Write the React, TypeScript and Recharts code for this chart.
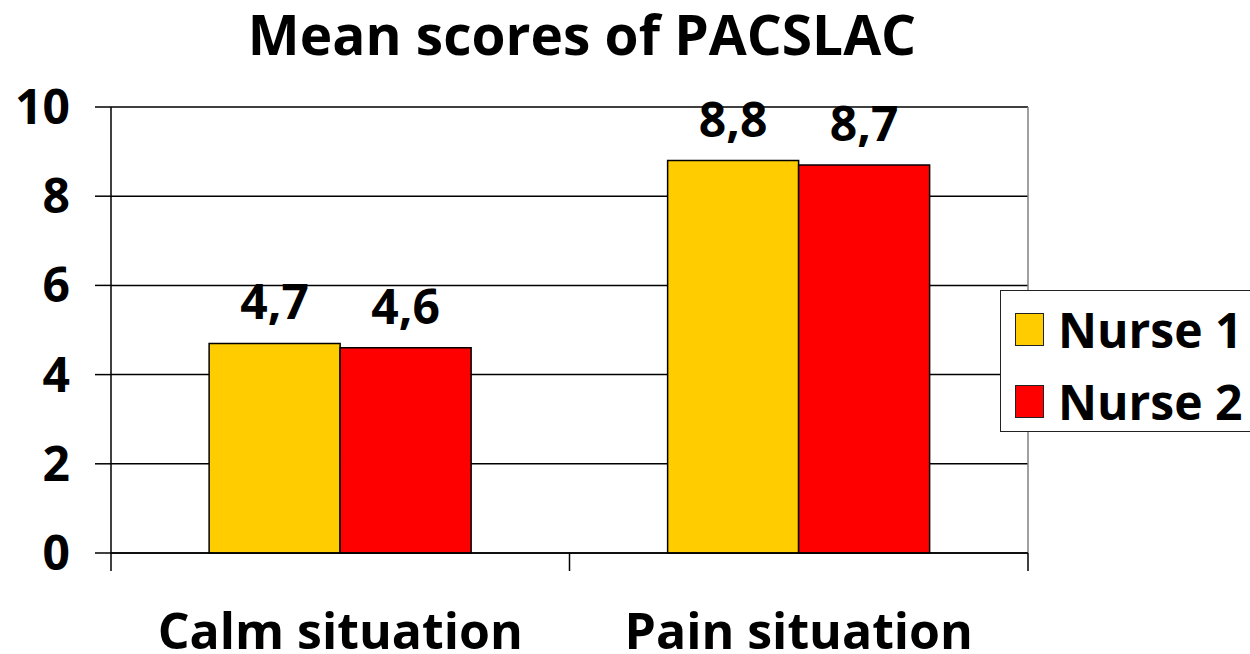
import { BarChart, Bar, XAxis, YAxis, CartesianGrid, Legend, LabelList, ReferenceLine } from 'recharts'

const categories = ['Calm situation', 'Pain situation']
const nurse1 = [4.7, 8.8]
const nurse2 = [4.6, 8.7]
const seriesNames = ['Nurse 1', 'Nurse 2']
const yTicks = [0, 2, 4, 6, 8, 10]
const edgeTicks = [0, 1, 2]

const COLORS = ['#FFCC00', '#FF0000']
const FONT = '"Open Sans", sans-serif'

const data = categories.map((name, i) => ({
  name,
  idx: i,
  nurse1: nurse1[i],
  nurse2: nurse2[i],
}))

const fmt = (v: any) => String(v).replace('.', ',')

function LegendBox({ payload }: any) {
  return (
    <div
      style={{
        position: 'relative',
        border: '1.5px solid #222',
        background: '#fff',
        width: 262,
        height: 142,
        boxSizing: 'border-box',
      }}
    >
      {(payload || []).map((p: any, i: number) => (
        <div key={i} style={{ position: 'absolute', left: 14, top: 22 + i * 72, display: 'flex', alignItems: 'center', height: 33 }}>
          <span
            style={{
              display: 'inline-block',
              width: 29,
              height: 33,
              background: p.color,
              border: '1.5px solid #222',
              boxSizing: 'border-box',
              marginRight: 14,
            }}
          />
          <span style={{ fontFamily: FONT, fontWeight: 700, fontSize: 48, color: '#000', lineHeight: 1 }}>{p.value}</span>
        </div>
      ))}
    </div>
  )
}

export default function App() {
  return (
    <div style={{ position: 'absolute', left: 0, top: 0, width: 1250, height: 654, background: '#fff', fontFamily: FONT }}>
      <div
        style={{
          position: 'absolute',
          left: 0,
          width: 1164,
          top: 6,
          textAlign: 'center',
          fontSize: 55,
          fontWeight: 700,
          color: '#000',
          lineHeight: 1,
        }}
      >
        Mean scores of PACSLAC
      </div>
      <BarChart
        width={1250}
        height={654}
        data={data}
        margin={{ top: 107, right: 222, bottom: 0, left: 11 }}
        barCategoryGap="21.4%"
        barGap={0}
      >
        <CartesianGrid xAxisId="b" vertical={false} stroke="#000" strokeWidth={1.5} />
        <XAxis
          xAxisId="a"
          dataKey="idx"
          type="number"
          domain={[0, 2]}
          ticks={edgeTicks}
          tickFormatter={() => ''}
          tickSize={18}
          height={18}
          axisLine={{ stroke: '#000', strokeWidth: 1.5 }}
          tickLine={{ stroke: '#000', strokeWidth: 1.5 }}
        />
        <XAxis
          xAxisId="b"
          dataKey="name"
          height={83}
          axisLine={false}
          tickLine={false}
          tickSize={0}
          tickMargin={42}
          tick={{ fill: '#000', fontSize: 50, fontWeight: 700, fontFamily: FONT }}
        />
        <YAxis
          width={100}
          domain={[0, 10]}
          ticks={yTicks}
          tickSize={16}
          tickMargin={25}
          axisLine={{ stroke: '#000', strokeWidth: 1.5 }}
          tickLine={{ stroke: '#000', strokeWidth: 1.5 }}
          tick={{ fill: '#000', fontSize: 48, fontWeight: 700, fontFamily: FONT }}
        />
        <ReferenceLine xAxisId="a" x={2} stroke="#808080" strokeWidth={1.5} />
        <Legend
          layout="horizontal"
          verticalAlign="middle"
          align="center"
          content={<LegendBox />}
          wrapperStyle={{ left: 1000, top: 290, width: 262, height: 142 }}
        />
        <Bar xAxisId="b" dataKey="nurse1" name={seriesNames[0]} fill={COLORS[0]} stroke="#000" strokeWidth={1.5} isAnimationActive={false}>
          <LabelList dataKey="nurse1" position="top" offset={24} formatter={fmt} fill="#000" fontSize={48} fontWeight={700} fontFamily={FONT} />
        </Bar>
        <Bar xAxisId="b" dataKey="nurse2" name={seriesNames[1]} fill={COLORS[1]} stroke="#000" strokeWidth={1.5} isAnimationActive={false}>
          <LabelList dataKey="nurse2" position="top" offset={24} formatter={fmt} fill="#000" fontSize={48} fontWeight={700} fontFamily={FONT} />
        </Bar>
      </BarChart>
    </div>
  )
}
